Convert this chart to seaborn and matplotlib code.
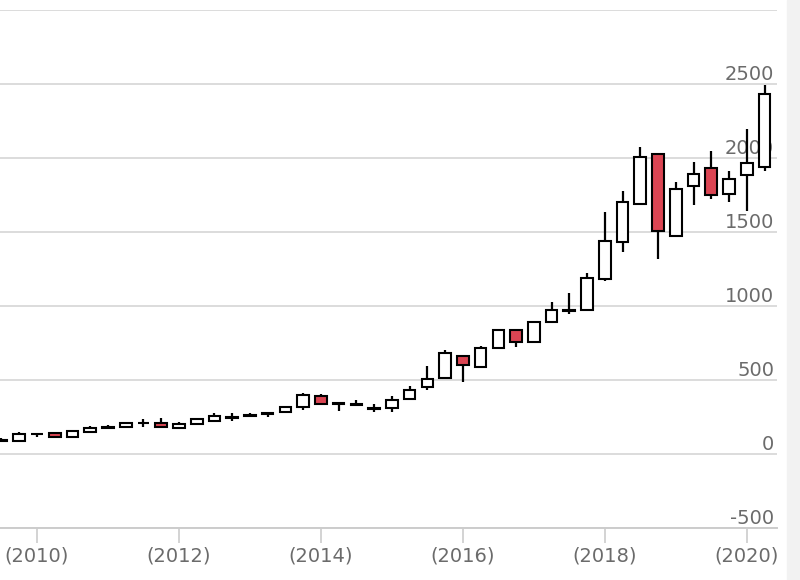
# quarterly candlestick chart
import numpy as np
import pandas as pd
import matplotlib
matplotlib.use("Agg")
import matplotlib.pyplot as plt
import seaborn as sns

# quarter labels (2009 Q3 .. 2020 Q2)
quarters = [f"{y}Q{q}" for y in range(2009, 2021) for q in range(1, 5)][2:-2]

open_ = [85, 88, 135, 142, 112, 152, 178, 185, 208, 212, 178, 202,
         222, 245, 258, 270, 282, 318, 395, 335, 332, 302, 310, 375,
         450, 512, 660, 590, 718, 838, 760, 893, 965, 975, 1180, 1430,
         1690, 2030, 1475, 1810, 1935, 1755, 1885, 1940]
high = [105, 150, 140, 150, 165, 190, 195, 215, 235, 240, 218, 240,
        275, 275, 280, 282, 320, 415, 408, 345, 368, 335, 395, 462,
        595, 702, 668, 730, 845, 845, 895, 1030, 1090, 1220, 1635, 1775,
        2075, 2035, 1835, 1975, 2050, 1910, 2195, 2490]
low = [78, 82, 115, 112, 108, 148, 172, 182, 180, 175, 172, 198,
       218, 220, 252, 252, 278, 300, 330, 290, 325, 285, 285, 370,
       430, 505, 485, 585, 712, 720, 755, 888, 948, 970, 1170, 1365,
       1685, 1315, 1470, 1685, 1725, 1700, 1645, 1910]
close = [95, 138, 132, 118, 155, 177, 185, 210, 212, 180, 200, 235,
         258, 250, 265, 276, 315, 400, 335, 342, 338, 310, 365, 435,
         510, 680, 600, 715, 838, 757, 890, 975, 972, 1190, 1440, 1700,
         2010, 1505, 1790, 1895, 1750, 1855, 1965, 2435]

year_ticks = ["(2010)", "(2012)", "(2014)", "(2016)", "(2018)", "(2020)"]
y_ticks = [-500, 0, 500, 1000, 1500, 2000, 2500, 3000]

df = pd.DataFrame({"quarter": quarters, "open": open_, "high": high,
                   "low": low, "close": close})
df["pos"] = np.arange(len(df)) - 2   # 2010Q1 -> 0
df["up"] = df["close"] >= df["open"]

sns.set_theme(style="white")
plt.rcParams["font.family"] = ["DejaVu Sans"]

fig = plt.figure(figsize=(8, 5.8), dpi=100)
ax = fig.add_axes([0.0, 52 / 580, 777 / 800, 518 / 580])

# wicks
ax.vlines(df["pos"], df["low"], df["high"], color="black", lw=1.6, zorder=2)

# bodies
body_bottom = df[["open", "close"]].min(axis=1)
body_height = (df["close"] - df["open"]).abs().clip(lower=4)
colors = np.where(df["up"], "white", "#db4553")
ax.bar(df["pos"], body_height, bottom=body_bottom, width=0.66,
       color=colors, edgecolor="black", linewidth=1.5, zorder=3)

ax.set_xlim(-2.08, 41.7)
ax.set_ylim(-500, 3000)

# grid
for v in y_ticks:
    ax.axhline(v, color="#dcdcdc", lw=1.4, zorder=0)

ax.set_yticks(y_ticks[:-1])
ax.set_yticklabels([str(v) for v in y_ticks[:-1]])
ax.yaxis.tick_right()
ax.tick_params(axis="y", length=0, pad=-2, labelsize=14, labelcolor="#6b6b6b")
for lab in ax.get_yticklabels():
    lab.set_horizontalalignment("right")
    lab.set_verticalalignment("bottom")

ax.set_xticks([0, 8, 16, 24, 32, 40])
ax.set_xticklabels(year_ticks)
ax.tick_params(axis="x", direction="out", length=11, width=1.2, color="#cccccc",
               pad=2, labelsize=14, labelcolor="#6b6b6b", bottom=True)

sns.despine(ax=ax, left=True, right=True, top=True, bottom=False)
ax.spines["bottom"].set_color("#cccccc")
ax.spines["bottom"].set_linewidth(1.4)
ax.set_xlabel("")
ax.set_ylabel("")

# faint band at right edge
fig.patches.append(plt.Rectangle((787 / 800, 0), 13 / 800, 1, transform=fig.transFigure,
                                 color="#f2f2f2", zorder=-1))

fig.savefig("out.png", dpi=100)
